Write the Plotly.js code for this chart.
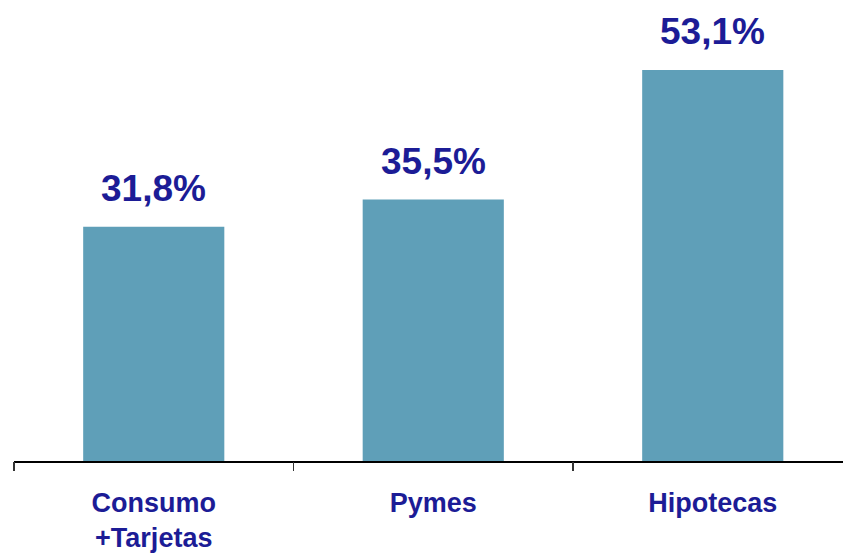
<!DOCTYPE html>
<html>
<head>
<meta charset="utf-8">
<script src="https://cdn.plot.ly/plotly-3.0.1.min.js"></script>
<style>html,body{margin:0;padding:0;background:#fff;}#chart{width:843px;height:557px;}</style>
</head>
<body>
<div id="chart"></div>
<script>
const categories = ["Consumo<br>+Tarjetas", "Pymes", "Hipotecas"];
const values = [31.8, 35.5, 53.1];
const valueLabels = ["31,8%", "35,5%", "53,1%"];

const barColor = "#5F9FB8";
const textColor = "#1C1C96";

const trace = {
  type: "bar",
  x: [0, 1, 2],
  y: values,
  width: 0.505,
  marker: {color: barColor},
  hoverinfo: "none"
};

const annotations = values.map((v, i) => ({
  x: i, y: v, xref: "x", yref: "y",
  text: valueLabels[i],
  showarrow: false,
  yanchor: "bottom",
  yshift: 16,
  font: {family: "Liberation Sans, Arial, sans-serif", size: 37, color: textColor, weight: "bold"}
}));

const layout = {
  width: 843, height: 557,
  margin: {l: 14, r: 0, t: 0, b: 96},
  paper_bgcolor: "#fff", plot_bgcolor: "#fff",
  showlegend: false,
  xaxis: {
    range: [-0.5, 2.466],
    tickmode: "array",
    tickvals: [0, 1, 2],
    ticktext: categories,
    showgrid: false, zeroline: false,
    showline: true, linecolor: "#000", linewidth: 1.5,
    ticks: "",
    ticklabelstandoff: 17,
    tickfont: {family: "Liberation Sans, Arial, sans-serif", size: 27, color: textColor, weight: "bold"},
    fixedrange: true
  },
  xaxis2: {
    overlaying: "x",
    range: [-0.5, 2.466],
    tickmode: "array",
    tickvals: [-0.5, 0.5, 1.5, 2.5],
    ticks: "outside", ticklen: 9, tickwidth: 1.5, tickcolor: "#333",
    showticklabels: false, showgrid: false, zeroline: false, showline: false,
    anchor: "y"
  },
  yaxis: {
    range: [0, 62.6],
    visible: false,
    showgrid: false, zeroline: false
  },
  annotations: annotations
};

const tickTrace = {type: "scatter", x: [0], y: [0], xaxis: "x2", mode: "none", hoverinfo: "none"};

Plotly.newPlot("chart", [trace, tickTrace], layout, {staticPlot: true});
</script>
</body>
</html>
